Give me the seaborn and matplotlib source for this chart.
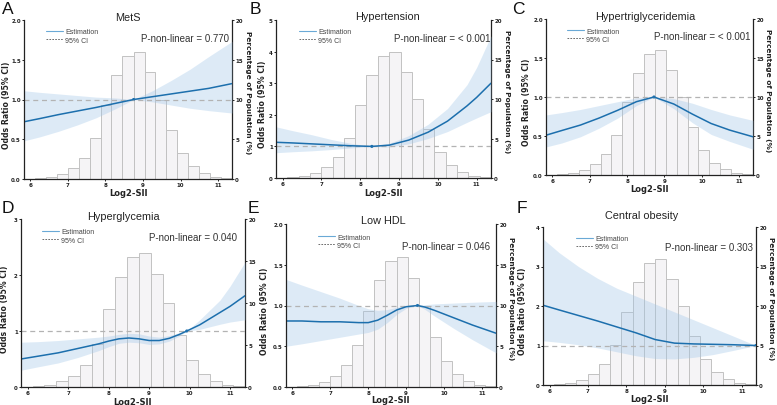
import numpy as np
import pandas as pd
import matplotlib
matplotlib.use("Agg")
import matplotlib.pyplot as plt
import seaborn as sns
from matplotlib.lines import Line2D

# ---------------- data ----------------
bin_edges = [5.83, 6.12, 6.41, 6.70, 7.00, 7.29, 7.58, 7.87, 8.16, 8.45, 8.75,
             9.04, 9.33, 9.62, 9.91, 10.20, 10.50, 10.79, 11.08, 11.37]
pop_pct = [0.05, 0.15, 0.2, 0.67, 1.35, 2.65, 5.1, 9.3, 13.1, 15.5, 16.0,
           13.4, 10.0, 6.15, 3.25, 1.6, 0.72, 0.25, 0.15]

A_x = [5.83, 6.25, 6.75, 7.25, 7.75, 8.25, 8.75, 9.25, 9.75, 10.25, 10.75, 11.37]
A_est = [0.72, 0.76, 0.81, 0.855, 0.90, 0.95, 1.00, 1.035, 1.07, 1.105, 1.14, 1.20]
A_lo = [0.48, 0.53, 0.60, 0.68, 0.77, 0.88, 1.00, 0.97, 0.93, 0.89, 0.86, 0.83]
A_hi = [1.11, 1.09, 1.07, 1.05, 1.03, 1.02, 1.00, 1.11, 1.24, 1.38, 1.54, 1.73]
A_ref = 8.75

B_x = [5.83, 6.25, 6.75, 7.25, 7.75, 8.3, 8.75, 9.25, 9.75, 10.25, 10.75, 11.0, 11.37]
B_est = [1.13, 1.11, 1.08, 1.05, 1.02, 1.00, 1.04, 1.20, 1.45, 1.80, 2.28, 2.55, 3.00]
B_lo = [0.80, 0.83, 0.86, 0.90, 0.95, 1.00, 0.98, 1.08, 1.25, 1.47, 1.76, 1.90, 2.10]
B_hi = [1.62, 1.50, 1.37, 1.22, 1.10, 1.00, 1.10, 1.34, 1.70, 2.20, 2.95, 3.50, 4.50]
B_ref = 8.3

C_x = [5.83, 6.25, 6.75, 7.25, 7.75, 8.25, 8.72, 9.25, 9.75, 10.25, 10.75, 11.37]
C_est = [0.51, 0.57, 0.64, 0.73, 0.83, 0.94, 1.00, 0.91, 0.78, 0.66, 0.575, 0.49]
C_lo = [0.36, 0.41, 0.49, 0.60, 0.73, 0.89, 1.00, 0.85, 0.67, 0.52, 0.43, 0.33]
C_hi = [0.77, 0.80, 0.84, 0.89, 0.94, 0.99, 1.00, 0.98, 0.92, 0.84, 0.77, 0.70]
C_ref = 8.72

D_x = [5.83, 6.25, 6.75, 7.25, 7.75, 8.0, 8.25, 8.5, 8.75, 9.0, 9.25, 9.5, 9.75,
       9.93, 10.25, 10.75, 11.0, 11.37]
D_est = [0.50, 0.55, 0.61, 0.69, 0.77, 0.82, 0.86, 0.875, 0.86, 0.83, 0.83, 0.87,
         0.94, 1.00, 1.11, 1.33, 1.44, 1.63]
D_lo = [0.30, 0.36, 0.43, 0.53, 0.65, 0.72, 0.78, 0.80, 0.79, 0.76, 0.77, 0.82,
        0.91, 1.00, 1.03, 1.12, 1.16, 1.20]
D_hi = [0.80, 0.81, 0.83, 0.86, 0.89, 0.91, 0.94, 0.96, 0.95, 0.91, 0.89, 0.92,
        0.97, 1.00, 1.20, 1.55, 1.80, 2.23]
D_ref = 9.93

E_x = [5.83, 6.25, 6.75, 7.25, 7.75, 8.0, 8.25, 8.5, 8.75, 9.0, 9.3, 9.5, 9.75,
       10.25, 10.75, 11.37]
E_est = [0.81, 0.81, 0.80, 0.80, 0.79, 0.79, 0.82, 0.88, 0.945, 0.985, 1.00, 0.98,
         0.94, 0.85, 0.76, 0.66]
E_lo = [0.50, 0.53, 0.57, 0.61, 0.65, 0.67, 0.71, 0.79, 0.89, 0.965, 1.00, 0.95,
        0.87, 0.72, 0.58, 0.42]
E_hi = [1.32, 1.25, 1.17, 1.09, 1.00, 0.96, 0.94, 0.95, 0.98, 0.995, 1.00, 1.01,
        1.02, 1.03, 1.04, 1.05]
E_ref = 9.3

F_x = [5.83, 6.25, 6.75, 7.25, 7.75, 8.25, 8.75, 9.25, 9.75, 10.25, 10.75, 11.37]
F_est = [2.02, 1.90, 1.76, 1.62, 1.47, 1.32, 1.15, 1.06, 1.04, 1.03, 1.02, 1.00]
F_lo = [1.12, 1.08, 1.02, 0.94, 0.84, 0.74, 0.67, 0.66, 0.70, 0.77, 0.87, 1.00]
F_hi = [3.70, 3.35, 3.00, 2.70, 2.45, 2.25, 2.05, 1.85, 1.65, 1.45, 1.25, 1.00]
F_ref = 11.37

titles = ["MetS", "Hypertension", "Hypertriglyceridemia",
          "Hyperglycemia", "Low HDL", "Central obesity"]
letters = ["A", "B", "C", "D", "E", "F"]
pvals = ["P-non-linear = 0.770", "P-non-linear = < 0.001", "P-non-linear = < 0.001",
         "P-non-linear = 0.040", "P-non-linear = 0.046", "P-non-linear = 0.303"]
or_ticks = [[0, 0.5, 1.0, 1.5, 2.0], [0, 1, 2, 3, 4, 5], [0, 0.5, 1.0, 1.5, 2.0],
            [0, 1, 2, 3], [0, 0.5, 1.0, 1.5, 2.0], [0, 1, 2, 3, 4]]
or_ticklabels = [["0.0", "0.5", "1.0", "1.5", "2.0"], ["0", "1", "2", "3", "4", "5"],
                 ["0.0", "0.5", "1.0", "1.5", "2.0"], ["0", "1", "2", "3"],
                 ["0.0", "0.5", "1.0", "1.5", "2.0"], ["0", "1", "2", "3", "4"]]
x_ticks = [6, 7, 8, 9, 10, 11]
pct_ticks = [0, 5, 10, 15, 20]

series = [(A_x, A_est, A_lo, A_hi, A_ref), (B_x, B_est, B_lo, B_hi, B_ref),
          (C_x, C_est, C_lo, C_hi, C_ref), (D_x, D_est, D_lo, D_hi, D_ref),
          (E_x, E_est, E_lo, E_hi, E_ref), (F_x, F_est, F_lo, F_hi, F_ref)]

# ---------------- layout (pixels) ----------------
W, H = 777, 406
layout = [
    dict(box=(24, 21, 232, 180), ylab=7, rlab=248, xlab=194, title=(128, 18), pv=(229, 38.5), leg=(46, 29.5), let=(2, 13.5)),
    dict(box=(276, 21, 491, 179), ylab=262, rlab=507, xlab=193, title=(388, 17), pv=(490, 39), leg=(299, 29.5), let=(250, 13.5)),
    dict(box=(546, 20, 753, 176), ylab=527, rlab=768, xlab=190, title=(645, 17), pv=(750, 37), leg=(567, 28.5), let=(512, 13.5)),
    dict(box=(21, 220, 245, 388), ylab=5, rlab=None, xlab=403, title=(123, 217), pv=(237, 238), leg=(42, 229.5), let=(2, 213)),
    dict(box=(286, 225, 496, 388), ylab=265, rlab=511.5, xlab=401, title=(383, 221), pv=(490, 247), leg=(318, 234.5), let=(248, 213)),
    dict(box=(543, 228, 756, 386), ylab=522.5, rlab=771, xlab=400, title=(642, 216), pv=(753, 248), leg=(576, 236), let=(517, 213)),
]

LINE = "#1c6fad"
LEG_LINE = "#6aa9d6"
BAND = "#9ec5e8"
BAR_FACE = "#f5f4f6"
BAR_EDGE = "#c2c2c2"
REF = "#b3b3b3"
SPINE = "#222222"
TXT = "#222222"

sns.set_style("ticks")
plt.rcParams["font.family"] = ["DejaVu Sans"]
plt.rcParams["axes.edgecolor"] = SPINE
plt.rcParams["xtick.color"] = SPINE
plt.rcParams["ytick.color"] = SPINE

fig = plt.figure(figsize=(W / 100, H / 100), dpi=100)
fig.patch.set_facecolor("white")

def fx(px):
    return px / W

def fy(py):
    return 1 - py / H

bin_centers = [(bin_edges[i] + bin_edges[i + 1]) / 2 for i in range(len(pop_pct))]

for i, (lay, (xs, est, lo, hi, ref)) in enumerate(zip(layout, series)):
    L, T, R, B = lay["box"]
    wpx, hpx = R - L, B - T
    ax = fig.add_axes([fx(L), fy(B), wpx / W, hpx / H])
    ax2 = ax.twinx()

    sns.histplot(x=bin_centers, weights=pop_pct, bins=bin_edges, ax=ax2,
                 color=BAR_FACE, edgecolor=BAR_EDGE, linewidth=0.7, alpha=1)
    ax2.set_ylim(0, 20)
    ax2.set_yticks(pct_ticks, labels=[str(t) for t in pct_ticks],
                   fontsize=4, fontweight="bold")
    ax2.tick_params(axis="y", length=1.5, width=0.7, pad=0.8, direction="out")
    for s in ["top", "left", "bottom"]:
        ax2.spines[s].set_visible(False)
    ax2.spines["right"].set_linewidth(0.9)
    if lay["rlab"] is not None:
        ax2.set_ylabel("Percentage of Population (%)", fontsize=5.3, fontweight="bold",
                       rotation=270, va="center", ha="center", rotation_mode="anchor",
                       color=TXT)
        ax2.yaxis.set_label_coords((lay["rlab"] - L) / wpx, 0.55)
    else:
        ax2.set_ylabel("")

    ax.set_zorder(ax2.get_zorder() + 1)
    ax.patch.set_visible(False)

    ax.fill_between(xs, lo, hi, color=BAND, alpha=0.35, linewidth=0)
    ax.axhline(1.0, color=REF, linewidth=0.9, dashes=(4, 3))
    sns.lineplot(x=xs, y=est, ax=ax, color=LINE, linewidth=1.1)
    sns.scatterplot(x=[ref], y=[1.0], ax=ax, color=LINE, s=5, edgecolor="none")

    ax.set_xlim(bin_edges[0], bin_edges[-1])
    ax.set_ylim(or_ticks[i][0], or_ticks[i][-1])
    ax.set_xticks(x_ticks, labels=[str(t) for t in x_ticks], fontsize=4, fontweight="bold")
    ax.set_yticks(or_ticks[i], labels=or_ticklabels[i], fontsize=4, fontweight="bold")
    ax.tick_params(axis="both", length=1.5, width=0.7, direction="out")
    ax.tick_params(axis="y", pad=0.8)
    ax.tick_params(axis="x", pad=1.0)
    for s in ["top", "right"]:
        ax.spines[s].set_visible(False)
    for s in ["left", "bottom"]:
        ax.spines[s].set_linewidth(0.9)

    ax.set_ylabel("Odds Ratio (95% CI)", fontsize=5.6, fontweight="bold",
                  va="center", ha="center", rotation_mode="anchor", color=TXT)
    ax.yaxis.set_label_coords((lay["ylab"] - L) / wpx, 0.47)
    ax.set_xlabel("Log2-SII", fontsize=6, fontweight="bold", va="center", color=TXT)
    ax.xaxis.set_label_coords(0.5, -(lay["xlab"] - B) / hpx)

    handles = [Line2D([], [], color=LEG_LINE, linewidth=0.8),
               Line2D([], [], color="#555555", linewidth=0.6, linestyle=(0, (2, 1.5)))]
    lx, ly = lay["leg"]
    leg = ax.legend(handles, ["Estimation", "95% CI"], loc="upper left",
                    bbox_to_anchor=((lx - L) / wpx, 1 - (ly - T) / hpx),
                    frameon=False, handlelength=2.4, handletextpad=0.35,
                    labelspacing=0.15, borderpad=0, borderaxespad=0,
                    prop={"family": "Liberation Sans", "size": 5})
    for t in leg.get_texts():
        t.set_color("#444444")

    tx, ty = lay["title"]
    fig.text(fx(tx), fy(ty), titles[i], ha="center", va="center", fontsize=7.8,
             family="Liberation Sans", color=TXT)
    px_, py_ = lay["pv"]
    fig.text(fx(px_), fy(py_), pvals[i], ha="right", va="center", fontsize=7,
             family="Liberation Sans", color="#333333")
    lx2, ly2 = lay["let"]
    fig.text(fx(lx2), fy(ly2), letters[i], ha="left", va="baseline", fontsize=12.5,
             family="Liberation Sans", color="#111111")

fig.savefig("out.png", dpi=100, facecolor="white")
